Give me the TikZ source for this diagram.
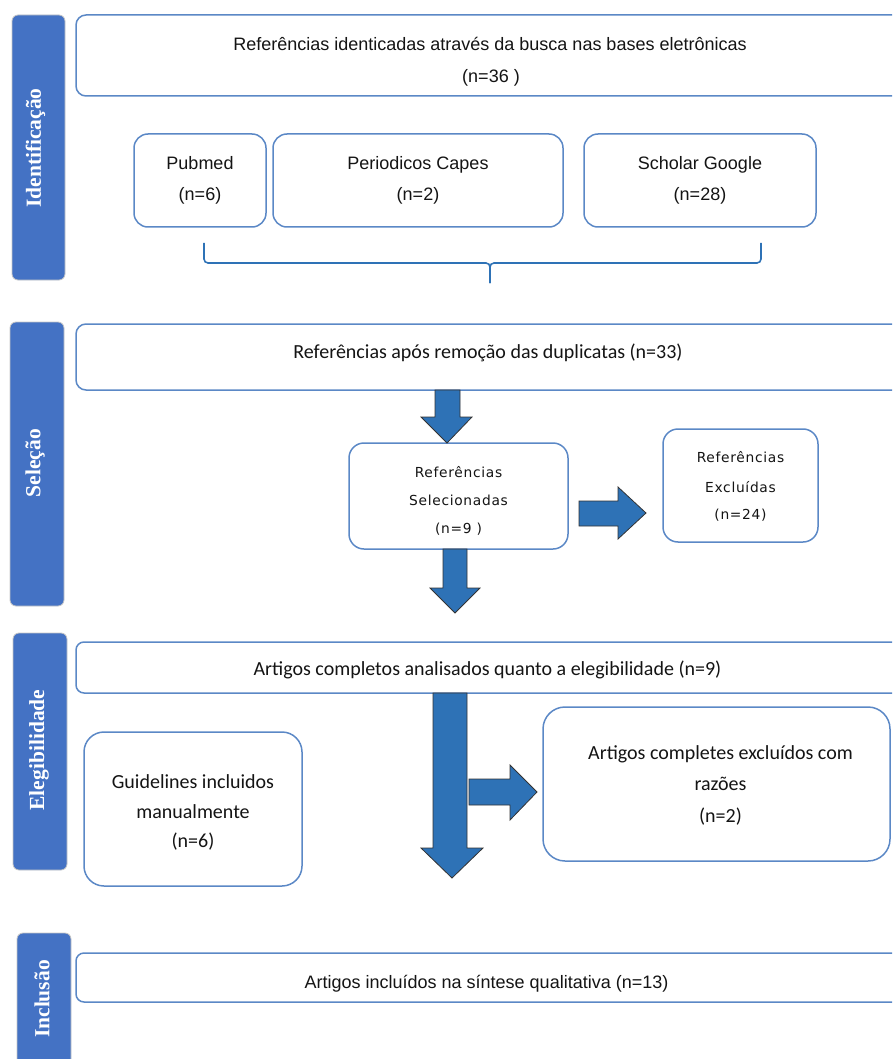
\documentclass[tikz,border=0pt]{standalone}
\usepackage{fontspec}
\setmainfont{Liberation Sans}
\newfontfamily\calfont{Carlito}
\newfontfamily\tabfont{Liberation Serif}
\newfontfamily\dvfont[LetterSpace=5]{DejaVu Sans}
\definecolor{tabblue}{HTML}{4472C4}
\definecolor{boxblue}{HTML}{5B88C6}
\definecolor{arrowblue}{HTML}{2E72B6}
\definecolor{txtcol}{HTML}{141414}
\begin{document}
\begin{tikzpicture}[x=1pt,y=-1pt,
  tab/.style={fill=tabblue, draw=gray!45, line width=0.8pt, rounded corners=6pt, inner sep=0pt},
  tablabel/.style={text=white, font=\tabfont\bfseries\fontsize{21.5}{24}\selectfont, inner sep=0pt},
  box/.style={draw=boxblue, line width=1.5pt, fill=white, inner sep=0pt},
  ar/.style={anchor=base, inner sep=0pt, text=txtcol, font=\fontsize{18}{20}\selectfont},
  ca/.style={anchor=base, inner sep=0pt, text=txtcol, font=\calfont\fontsize{20}{22}\selectfont},
  dv/.style={anchor=base, inner sep=0pt, text=txtcol, font=\dvfont\fontsize{13.8}{15}\selectfont},
  barrow/.style={fill=arrowblue, draw=black!80, line width=0.8pt, line join=miter},
  brace/.style={draw=arrowblue, line width=1.6pt, rounded corners=4pt}
]
\useasboundingbox (0,0) rectangle (892,1059);
\clip (0,0) rectangle (892,1059);

% side tabs
\node[tab, minimum width=53, minimum height=265] (t1) at (38.5,147.5) {};
\node[tablabel, rotate=90] (l1) at (35.5,148) {Identificação};
\node[tab, minimum width=54, minimum height=284] (t2) at (37,464) {};
\node[tablabel, rotate=90] (l2) at (35,463) {Seleção};
\node[tab, minimum width=54, minimum height=237] (t3) at (40,751.5) {};
\node[tablabel, rotate=90] (l3) at (39,750) {Elegibilidade};
\node[tab, minimum width=54, minimum height=142] (t4) at (44,1004) {};
\node[tablabel, rotate=90] (l4) at (42,999) {Inclusão};

% identification
\node[box, rounded corners=10pt, minimum width=829, minimum height=81] (b1) at (490.5,55.5) {};
\node[ar] (b1a) at (490,51) {Referências identicadas através da busca nas bases eletrônicas};
\node[ar] (b1b) at (491,83) {(n=36 )};
\node[box, rounded corners=14pt, minimum width=132, minimum height=93] (pub) at (200,180.5) {};
\node[ar] (puba) at (200,170) {Pubmed};
\node[ar] (pubb) at (200,201) {(n=6)};
\node[box, rounded corners=14pt, minimum width=290, minimum height=93] (cap) at (418,180.5) {};
\node[ar] (capa) at (418,170) {Periodicos Capes};
\node[ar] (capb) at (418,201) {(n=2)};
\node[box, rounded corners=14pt, minimum width=232, minimum height=93] (sch) at (700,180.5) {};
\node[ar] (scha) at (700,170) {Scholar Google};
\node[ar] (schb) at (700,201) {(n=28)};

% brace
\draw[brace] (204,243) -- (204,263) -- (490,263) -- (490,283);
\draw[brace] (490,283) -- (490,263) -- (761,263) -- (761,243);

% selection
\node[box, rounded corners=10pt, minimum width=829, minimum height=66] (b2) at (490.5,357) {};
\node[ca] (b2a) at (488,358) {Referências após remoção das duplicatas (n=33)};
\node[box, rounded corners=15pt, minimum width=219, minimum height=106] (sel) at (458.5,496) {};
\node[dv] (sela) at (458.5,477) {Referências};
\node[dv] (selb) at (458.5,505) {Selecionadas};
\node[dv] (selc) at (458.5,533) {(n=9 )};
\node[box, rounded corners=15pt, minimum width=155, minimum height=113] (exc) at (740.5,485.5) {};
\node[dv] (exca) at (740.5,462) {Referências};
\node[dv] (excb) at (740.5,492) {Excluídas};
\node[dv] (excc) at (740.5,519) {(n=24)};

\draw[barrow] (435,390) -- (460,390) -- (460,417) -- (472,417) -- (447,443) -- (421,417) -- (435,417) -- cycle;
\draw[barrow] (579,501) -- (618,501) -- (618,487) -- (646,513) -- (618,539) -- (618,526) -- (579,526) -- cycle;
\draw[barrow] (443,549) -- (467,549) -- (467,588) -- (480,588) -- (455,613) -- (430,588) -- (443,588) -- cycle;

% eligibility
\node[box, rounded corners=8pt, minimum width=829, minimum height=51] (b3) at (490.5,667.5) {};
\node[ca] (b3a) at (487.5,675) {Artigos completos analisados quanto a elegibilidade (n=9)};
\node[box, rounded corners=20pt, minimum width=218, minimum height=154] (gui) at (193,809) {};
\node[ca] (guia) at (193,788) {Guidelines incluidos};
\node[ca] (guib) at (193,818) {manualmente};
\node[ca] (guic) at (193,847) {(n=6)};
\node[box, rounded corners=22pt, minimum width=347, minimum height=154] (ex2) at (716.5,784) {};
\node[ca] (ex2a) at (720.5,759) {Artigos completes excluídos com};
\node[ca] (ex2b) at (720.5,790) {razões};
\node[ca] (ex2c) at (720.5,822) {(n=2)};

\draw[barrow] (433,693) -- (467,693) -- (467,848) -- (483,848) -- (452,878) -- (421,848) -- (433,848) -- cycle;
\draw[barrow] (469,779) -- (510,779) -- (510,765) -- (537,792) -- (510,820) -- (510,805) -- (469,805) -- cycle;

% inclusion
\node[box, rounded corners=8pt, minimum width=829, minimum height=49] (b4) at (490.5,977.5) {};
\node[ar] (b4a) at (486.5,988) {Artigos incluídos na síntese qualitativa (n=13)};
\end{tikzpicture}
\end{document}
